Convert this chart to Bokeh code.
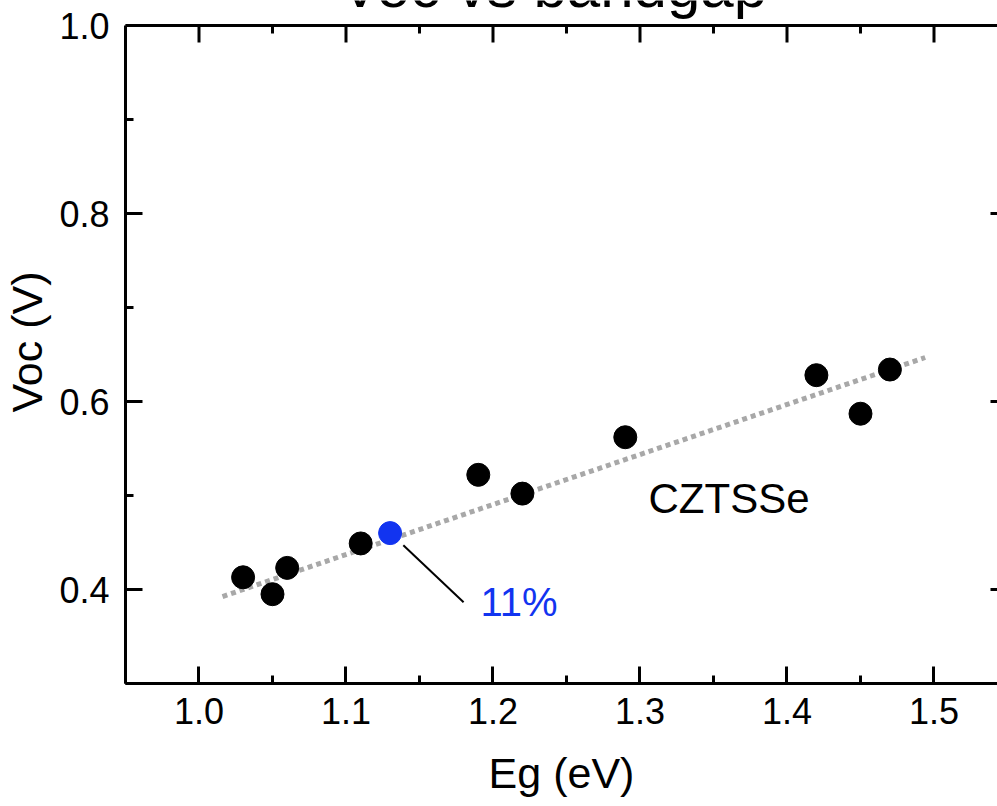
import math
from bokeh.plotting import figure
from bokeh.models import Range1d, LinearAxis, FixedTicker, Label, NumeralTickFormatter, Span
from bokeh.embed import file_html
from bokeh.resources import INLINE

# ---- data ----
eg = [1.03, 1.05, 1.06, 1.11, 1.19, 1.22, 1.29, 1.42, 1.45, 1.47]
voc = [0.413, 0.395, 0.423, 0.449, 0.522, 0.502, 0.562, 0.628, 0.587, 0.634]
hl_eg = [1.13]
hl_voc = [0.460]
fit_eg = [1.016, 1.494]
fit_voc = [0.3925, 0.6468]
leader_eg = [1.139, 1.180]
leader_voc = [0.447, 0.3865]
x_ticks = [1.0, 1.1, 1.2, 1.3, 1.4, 1.5]
x_minor = [0.95, 1.05, 1.15, 1.25, 1.35, 1.45, 1.55]
y_ticks = [0.4, 0.6, 0.8, 1.0]
y_minor = [0.3, 0.5, 0.7, 0.9]
y_lo, y_hi = 0.3, 1.0

FONT = "Liberation Sans"
BLUE = "#1234f0"

# frame spans the whole height above the x axis; 25 px of it lie above y = 1.0
PX_PER_Y = 940.0
y_top = y_hi + 25 / PX_PER_Y

p = figure(width=997, height=806, output_backend="svg", toolbar_location=None,
           x_range=Range1d(0.95, 1.5432), y_range=Range1d(y_lo, y_top),
           min_border_left=125, min_border_right=0, min_border_top=0,
           min_border_bottom=123, outline_line_color=None,
           background_fill_color="white", border_fill_color="white")
p.xgrid.visible = False
p.ygrid.visible = False


def style(ax, ticks, minor, labels=True, major_in=17, minor_in=8, line=True):
    ax.ticker = FixedTicker(ticks=ticks, minor_ticks=minor)
    ax.axis_line_width = 3
    ax.axis_line_color = "black" if line else None
    ax.major_tick_in = major_in
    ax.major_tick_out = 0
    ax.minor_tick_in = minor_in
    ax.minor_tick_out = 0
    ax.major_tick_line_width = 3
    ax.minor_tick_line_width = 3
    ax.major_tick_line_color = "black"
    ax.minor_tick_line_color = "black" if minor_in else None
    ax.major_label_text_font = FONT
    ax.axis_label_text_font = FONT
    ax.axis_label_text_font_style = "normal"
    ax.axis_label_text_color = "black"
    if labels:
        ax.formatter = NumeralTickFormatter(format="0.0")
        ax.major_label_text_font_size = "36px"
        ax.major_label_text_color = "black"
    else:
        ax.major_label_text_font_size = "1px"
        ax.major_label_text_color = None
        ax.major_label_standoff = 0


style(p.xaxis[0], x_ticks, x_minor)
p.xaxis[0].major_label_standoff = 14
p.xaxis[0].axis_label = "Eg (eV)"
p.xaxis[0].axis_label_text_font_size = "43px"
p.xaxis[0].axis_label_standoff = 22

style(p.yaxis[0], y_ticks, y_minor)
p.yaxis[0].bounds = (y_lo, y_hi)
p.yaxis[0].major_label_standoff = 16
p.yaxis[0].axis_label = "Voc (V)"
p.yaxis[0].axis_label_text_font_size = "43px"
p.yaxis[0].axis_label_standoff = 5

right = LinearAxis(bounds=(y_lo, y_hi))
style(right, y_ticks, y_minor, labels=False, major_in=7, minor_in=0, line=False)
p.add_layout(right, "right")

# top frame line with inward ticks (mirror of the x axis)
p.add_layout(Span(location=y_hi, dimension="width", line_color="black", line_width=3))
p.segment(x0=x_ticks, y0=[y_hi] * len(x_ticks), x1=x_ticks,
          y1=[y_hi - 17 / PX_PER_Y] * len(x_ticks), line_color="black", line_width=3)
p.segment(x0=x_minor, y0=[y_hi] * len(x_minor), x1=x_minor,
          y1=[y_hi - 8 / PX_PER_Y] * len(x_minor), line_color="black", line_width=3)

# fit line
p.line(fit_eg, fit_voc, line_color="#a8a8a8", line_width=5, line_dash="5 4")
# leader line
p.line(leader_eg, leader_voc, line_color="black", line_width=2)
# points
p.scatter(eg, voc, size=23, marker="circle", fill_color="black", line_color="black")
p.scatter(hl_eg, hl_voc, size=23, marker="circle", fill_color=BLUE, line_color=BLUE)

# texts
p.add_layout(Label(x=1.1915, y=0.387, text="11%", text_color=BLUE,
                   text_font=FONT, text_font_size="40px",
                   text_align="left", text_baseline="alphabetic"))
p.add_layout(Label(x=1.3058, y=0.497, text="CZTSSe", text_color="black",
                   text_font=FONT, text_font_size="42px",
                   text_align="left", text_baseline="alphabetic"))
# title: only its lower part lies inside the picture, as in the reference
p.add_layout(Label(x=1.2412, y=y_top + 14 / PX_PER_Y,
                   text="Voc vs bandgap", text_color="black",
                   text_font=FONT, text_font_size="60px",
                   text_align="center", text_baseline="alphabetic"))

open("out.html", "w").write(file_html(p, INLINE))
